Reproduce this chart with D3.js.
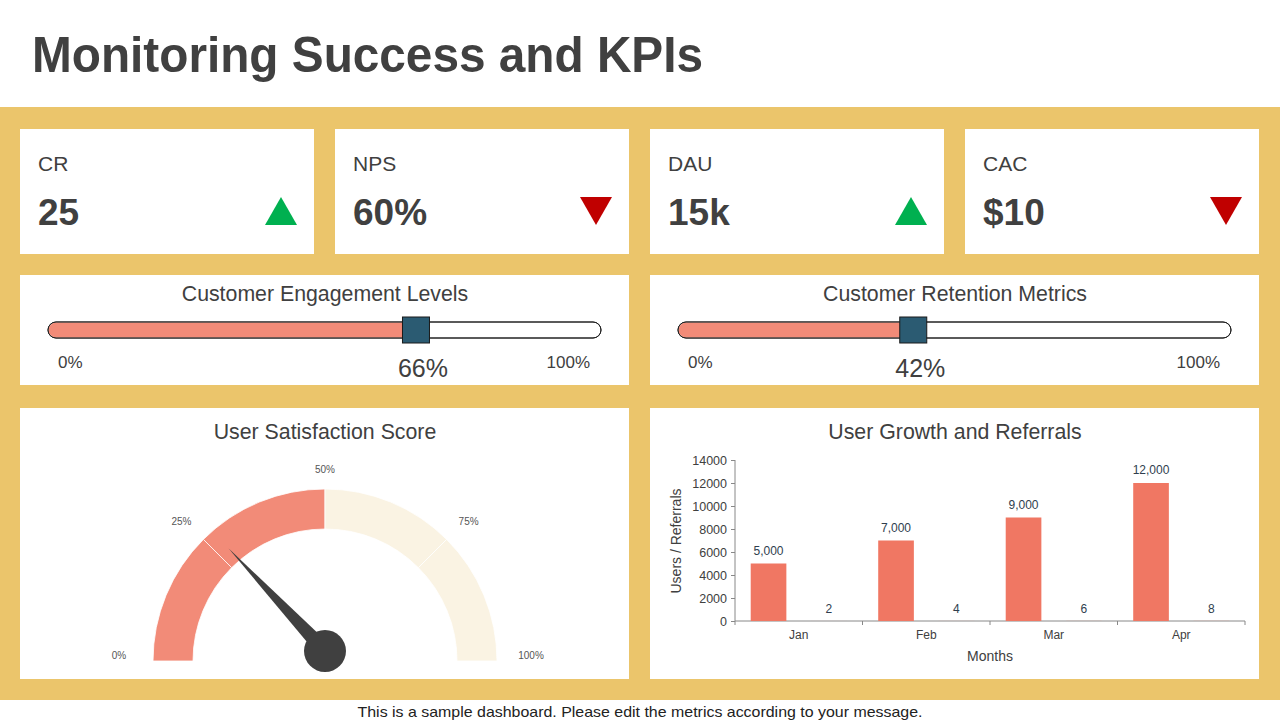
<!DOCTYPE html>
<html>
<head>
<meta charset="utf-8">
<script src="https://cdn.jsdelivr.net/npm/d3@7"></script>
<style>
  html, body { margin: 0; padding: 0; background: #fff; }
  svg { display: block; font-family: "Liberation Sans", Arial, sans-serif; }
</style>
</head>
<body>
<svg id="chart" width="1280" height="720"></svg>
<script>
// KPI cards
var kpiNames = ["CR", "NPS", "DAU", "CAC"];
var kpiValues = ["25", "60%", "15k", "$10"];
var kpiTrend = ["up", "down", "up", "down"];

// sliders
var sliderNames = ["Customer Engagement Levels", "Customer Retention Metrics"];
var sliderValues = [66, 42];

// gauge
var gaugeTicks = [0, 25, 50, 75, 100];
var gaugeFilled = 50;
var gaugeNeedle = 26;

// bar chart
var months = ["Jan", "Feb", "Mar", "Apr"];
var users = [5000, 7000, 9000, 12000];
var referrals = [2, 4, 6, 8];
var yTicks = [0, 2000, 4000, 6000, 8000, 10000, 12000, 14000];

var svg = d3.select("#chart");
var txt = "#404040";

// title
svg.append("text").attr("x", 32).attr("y", 72)
  .attr("font-size", 50).attr("font-weight", "bold").attr("fill", txt)
  .attr("textLength", 671).attr("lengthAdjust", "spacingAndGlyphs")
  .text("Monitoring Success and KPIs");

// yellow band
svg.append("rect").attr("x", 0).attr("y", 107).attr("width", 1280).attr("height", 593)
  .attr("fill", "#EBC56B");

svg.append("text").attr("x", 640).attr("y", 717).attr("text-anchor", "middle")
  .attr("font-size", 15).attr("fill", "#222")
  .attr("textLength", 565).attr("lengthAdjust", "spacingAndGlyphs")
  .text("This is a sample dashboard. Please edit the metrics according to your message.");

function card(x, y, w, h) {
  return svg.append("rect").attr("x", x).attr("y", y).attr("width", w).attr("height", h).attr("fill", "#fff");
}

// ---- KPI cards
var kx = d3.scaleBand().domain(kpiNames).range([20, 1259]).paddingInner(21 / 315);
kpiNames.forEach(function(n, i) {
  var x0 = kx(n), w = kx.bandwidth();
  card(x0, 129, w, 125);
  svg.append("text").attr("x", x0 + 18).attr("y", 171).attr("font-size", 21).attr("fill", txt).text(n);
  svg.append("text").attr("x", x0 + 18).attr("y", 225).attr("font-size", 37).attr("font-weight", "bold")
    .attr("fill", txt).text(kpiValues[i]);
  var cx = x0 + w - 33, up = kpiTrend[i] == "up";
  var pts = up ? [[cx - 16, 225], [cx + 16, 225], [cx, 197]] : [[cx - 16, 197], [cx + 16, 197], [cx, 225]];
  svg.append("path").attr("d", "M" + pts.join("L") + "Z").attr("fill", up ? "#00B050" : "#C00000");
});

// ---- sliders
var sliderX = [20, 650];
sliderNames.forEach(function(n, i) {
  var x0 = sliderX[i];
  card(x0, 275, 609, 110);
  svg.append("text").attr("x", x0 + 305).attr("y", 301).attr("text-anchor", "middle")
    .attr("font-size", 21.3).attr("fill", txt).text(n);
  var s = d3.scaleLinear().domain([0, 100]).range([x0 + 28, x0 + 581]);
  var g = svg.append("g");
  g.append("rect").attr("x", s(0)).attr("y", 322).attr("width", s(100) - s(0)).attr("height", 16)
    .attr("rx", 8).attr("fill", "#fff").attr("stroke", "#222").attr("stroke-width", 1);
  g.append("path")
    .attr("d", "M" + (s(sliderValues[i])) + ",322.5H" + (s(0) + 8) + "A7.5,7.5 0 0 0 " + (s(0) + 8) + ",337.5H" + s(sliderValues[i]) + "Z")
    .attr("fill", "#F28B78");
  g.append("rect").attr("x", s(0)).attr("y", 322).attr("width", s(100) - s(0)).attr("height", 16)
    .attr("rx", 8).attr("fill", "none").attr("stroke", "#222").attr("stroke-width", 1);
  var hx = s(sliderValues[i]) + 3;
  g.append("rect").attr("x", hx - 13.5).attr("y", 317).attr("width", 27).attr("height", 26)
    .attr("fill", "#2B5B72").attr("stroke", "#1a1a1a").attr("stroke-width", 1);
  svg.append("text").attr("x", s(0) + 10).attr("y", 368).attr("font-size", 17).attr("fill", txt).text("0%");
  svg.append("text").attr("x", s(100) - 11).attr("y", 368).attr("text-anchor", "end").attr("font-size", 17)
    .attr("fill", txt).text("100%");
  svg.append("text").attr("x", hx + 7).attr("y", 377).attr("text-anchor", "middle").attr("font-size", 25)
    .attr("fill", txt).text(sliderValues[i] + "%");
});

// ---- gauge
card(20, 408, 609, 271);
svg.append("text").attr("x", 325).attr("y", 439).attr("text-anchor", "middle")
  .attr("font-size", 21.3).attr("fill", txt).text("User Satisfaction Score");

var gcx = 325, gcy = 661;
var ang = d3.scaleLinear().domain([0, 100]).range([-Math.PI / 2, Math.PI / 2]);
var arc = d3.arc().innerRadius(132).outerRadius(172);
var gg = svg.append("g").attr("transform", "translate(" + gcx + "," + gcy + ")");
d3.pairs(gaugeTicks).forEach(function(p) {
  gg.append("path")
    .attr("d", arc({ startAngle: ang(p[0]), endAngle: ang(p[1]) }))
    .attr("fill", p[1] <= gaugeFilled ? "#F28B78" : "#FAF3E3")
    .attr("stroke", "#fff").attr("stroke-width", 0.8);
});
gaugeTicks.forEach(function(t) {
  var a = ang(t), r = 196 + 10 * Math.abs(Math.sin(a));
  var edge = (t == 0 || t == 100);
  gg.append("text").attr("x", r * Math.sin(a)).attr("y", -r * Math.cos(a) + (edge ? -2 : 8))
    .attr("text-anchor", "middle").attr("font-size", 10).attr("fill", "#555").text(t + "%");
});
// needle
var na = ang(gaugeNeedle), hub = [0, -10], len = 141;
var tip = [hub[0] + len * Math.sin(na), hub[1] - len * Math.cos(na)];
var px = Math.cos(na) * 8, py = Math.sin(na) * 8;
gg.append("path")
  .attr("d", "M" + (hub[0] - px) + "," + (hub[1] - py) + "L" + tip[0] + "," + tip[1] + "L" + (hub[0] + px) + "," + (hub[1] + py) + "Z")
  .attr("fill", "#404040");
gg.append("circle").attr("cx", hub[0]).attr("cy", hub[1]).attr("r", 21).attr("fill", "#404040");

// ---- bar chart
card(650, 408, 609, 271);
svg.append("text").attr("x", 955).attr("y", 439).attr("text-anchor", "middle")
  .attr("font-size", 21.3).attr("fill", txt).text("User Growth and Referrals");

var x = d3.scaleBand().domain(months).range([735, 1245]);
var x1 = d3.scaleBand().domain(["users", "referrals"]).range([0, x.bandwidth()]).paddingInner(0.41).paddingOuter(0.26);
var y = d3.scaleLinear().domain([0, 14000]).range([621, 460]);

var yAxis = svg.append("g").attr("transform", "translate(735,0)")
  .call(d3.axisLeft(y).tickValues(yTicks).tickSize(4).tickPadding(4).tickFormat(d3.format("d")));
yAxis.selectAll("text").attr("font-size", 12.5).attr("fill", txt).attr("font-family", "Liberation Sans, Arial");
yAxis.selectAll("line,path").attr("stroke", "#888");
yAxis.select(".domain").attr("d", "M0,460V621");

var xAxis = svg.append("g").attr("transform", "translate(0,621)")
  .call(d3.axisBottom(x).tickSize(0).tickPadding(9));
xAxis.selectAll("text").attr("font-size", 12).attr("fill", txt).attr("font-family", "Liberation Sans, Arial");
xAxis.select(".domain").attr("stroke", "#888").attr("d", "M735,0H1245");
xAxis.selectAll(".sep").data(months.concat(["end"])).enter().append("line").attr("class", "sep")
  .attr("x1", function(d, i) { return 735 + i * x.step(); })
  .attr("x2", function(d, i) { return 735 + i * x.step(); })
  .attr("y1", 0).attr("y2", 4).attr("stroke", "#888");

var fmt = d3.format(",");
var bars = svg.append("g");
months.forEach(function(m, i) {
  var bx = x(m) + x1("users");
  bars.append("rect").attr("x", bx).attr("y", y(users[i])).attr("width", x1.bandwidth())
    .attr("height", y(0) - y(users[i])).attr("fill", "#F07763");
  bars.append("text").attr("x", bx + x1.bandwidth() / 2).attr("y", y(users[i]) - 9)
    .attr("text-anchor", "middle").attr("font-size", 12).attr("fill", "#2F3E4E").text(fmt(users[i]));
  var rx = x(m) + x1("referrals");
  bars.append("rect").attr("x", rx).attr("y", y(referrals[i])).attr("width", x1.bandwidth())
    .attr("height", y(0) - y(referrals[i])).attr("fill", "#F07763");
  bars.append("text").attr("x", rx + x1.bandwidth() / 2).attr("y", y(referrals[i]) - 8)
    .attr("text-anchor", "middle").attr("font-size", 12).attr("fill", "#2F3E4E").text(fmt(referrals[i]));
});

svg.append("text").attr("transform", "translate(681,541) rotate(-90)").attr("text-anchor", "middle")
  .attr("font-size", 14).attr("fill", txt).text("Users / Referrals");
svg.append("text").attr("x", 990).attr("y", 661).attr("text-anchor", "middle")
  .attr("font-size", 14).attr("fill", txt).text("Months");
</script>
</body>
</html>
